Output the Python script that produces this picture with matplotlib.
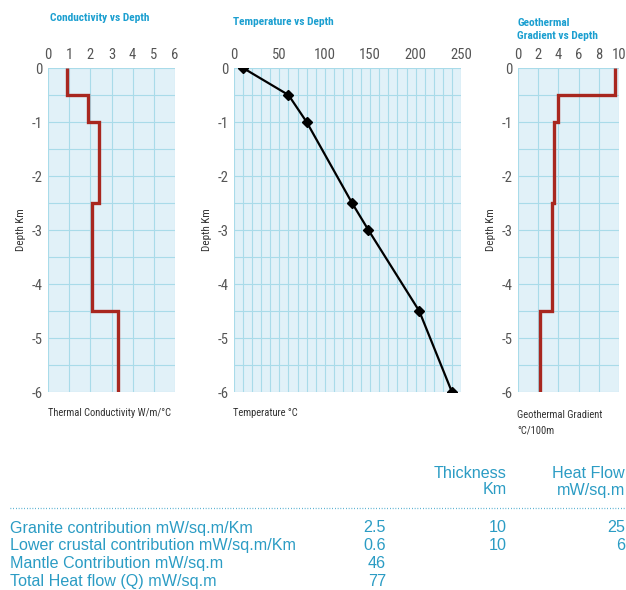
import numpy as np
import matplotlib.pyplot as plt
from matplotlib import font_manager

# depth layers (km) and values
layer_edges = [-6, -4.5, -2.5, -1, -0.5, 0]
conductivity = [3.3, 2.1, 2.4, 1.9, 0.9]
gradient = [2.2, 3.4, 3.6, 4.0, 9.6]

temp_depth = [0, -0.5, -1, -2.5, -3, -4.5, -6]
temperature = [10, 60, 80, 130, 148, 204, 240]

table_rows = ['Granite contribution mW/sq.m/Km',
              'Lower crustal contribution mW/sq.m/Km',
              'Mantle Contribution mW/sq.m',
              'Total Heat flow (Q) mW/sq.m']
col_value = ['2.5', '0.6', '46', '77']
col_thickness = ['10', '10', '', '']
col_heatflow = ['25', '6', '', '']

# pick a narrow face for the chart labels if one is around
fonts = font_manager.fontManager.ttflist
names = {f.name for f in fonts}
narrow = dict(family='DejaVu Sans', stretch='normal')
for n in ['Liberation Sans Narrow', 'Roboto Condensed', 'Open Sans Condensed']:
    if n in names:
        narrow = dict(family=n, stretch='normal')
        break
else:
    if any(f.name == 'DejaVu Sans' and f.stretch == 'condensed' for f in fonts):
        narrow = dict(family='DejaVu Sans', stretch='condensed')

cyan = '#1b9fd0'
tcyan = '#2b9cc4'
grey = '#555555'
fill = '#e1f1f8'
gridc = '#a9dbe9'
red = '#a8271f'

fig = plt.figure(figsize=(6.26, 5.9), dpi=100)
W, H = 626, 590


def px_axes(x0, y0, x1, y1):
    return fig.add_axes([x0 / W, 1 - y1 / H, (x1 - x0) / W, (y1 - y0) / H])


def style(ax, xmax, xstep):
    ax.set_facecolor(fill)
    ax.xaxis.tick_top()
    ax.set_xticks(np.arange(0, xmax + 1, xstep))
    ax.set_yticks(np.arange(-6, 1, 1))
    ax.set_yticklabels([str(v) for v in range(-6, 1)])
    ax.set_yticks(np.arange(-6, 0.01, 0.5), minor=True)
    ax.tick_params(which='both', length=0, labelsize=10.5, labelcolor=grey, pad=4)
    for lab in ax.get_xticklabels() + ax.get_yticklabels():
        lab.set_family(narrow['family'])
        lab.set_stretch(narrow['stretch'])
    for s in ax.spines.values():
        s.set_visible(False)
    ax.grid(True, which='both', axis='y', color=gridc, lw=0.8)
    ax.grid(True, which='major', axis='x', color=gridc, lw=0.8)
    ax.set_axisbelow(True)
    ax.set_ylabel('Depth Km', fontsize=8, color='#333333', labelpad=4,
                  fontstretch=narrow['stretch'], family=narrow['family'])


# Conductivity
ax1 = px_axes(48, 68, 175, 392)
style(ax1, 6, 1)
ax1.stairs(conductivity, layer_edges, orientation='horizontal', baseline=None,
           color=red, lw=2.4)
ax1.set_xlim(0, 6)
ax1.set_ylim(-6, 0)

# Temperature
ax2 = px_axes(234, 68, 461, 392)
style(ax2, 250, 50)
ax2.set_xticks(np.arange(0, 251, 10), minor=True)
ax2.grid(True, which='minor', axis='x', color=gridc, lw=0.8)
ax2.plot(temperature, temp_depth, color='black', lw=1.6, marker='D', ms=5.5)
ax2.set_xlim(0, 250)
ax2.set_ylim(-6, 0)

# Geothermal gradient
ax3 = px_axes(518, 68, 619, 392)
style(ax3, 10, 2)
ax3.stairs(gradient, layer_edges, orientation='horizontal', baseline=None,
           color=red, lw=2.4)
ax3.set_xlim(0, 10)
ax3.set_ylim(-6, 0)

# titles and axis captions
tkw = dict(color=cyan, fontsize=8.2, family=narrow['family'], fontstretch=narrow['stretch'],
           fontweight='bold', va='center')
fig.text(50 / W, 1 - 18 / H, 'Conductivity vs Depth', **tkw)
fig.text(233 / W, 1 - 22 / H, 'Temperature vs Depth', **tkw)
fig.text(517 / W, 1 - 29.5 / H, 'Geothermal\nGradient vs Depth', linespacing=1.3, **tkw)

ckw = dict(color='#333333', fontsize=7.6, family=narrow['family'],
           fontstretch=narrow['stretch'], va='center')
fig.text(48 / W, 1 - 413 / H, 'Thermal Conductivity W/m/°C', **ckw)
fig.text(233 / W, 1 - 413 / H, 'Temperature °C', **ckw)
fig.text(517 / W, 1 - 422.5 / H, 'Geothermal Gradient\n°C/100m', linespacing=1.75, **ckw)

# table
bkw = dict(color=tcyan, fontsize=11.6, family='Liberation Sans', va='center')
fig.text(507 / W, 1 - 473 / H, 'Thickness', ha='right', **bkw)
fig.text(507 / W, 1 - 490 / H, 'Km', ha='right', **bkw)
fig.text(625 / W, 1 - 473 / H, 'Heat Flow', ha='right', **bkw)
fig.text(625 / W, 1 - 490 / H, 'mW/sq.m', ha='right', **bkw)
fig.add_artist(plt.Line2D([10 / W, 1], [1 - 508 / H] * 2, color=tcyan,
                          lw=0.9, ls=(0, (0.6, 1.6))))
for i, label in enumerate(table_rows):
    y = 1 - (528 + i * 17.8) / H
    fig.text(10 / W, y, label, ha='left', **bkw)
    fig.text(386 / W, y, col_value[i], ha='right', **bkw)
    fig.text(507 / W, y, col_thickness[i], ha='right', **bkw)
    fig.text(625 / W, y, col_heatflow[i], ha='right', **bkw)

fig.savefig('out.png', dpi=100)
